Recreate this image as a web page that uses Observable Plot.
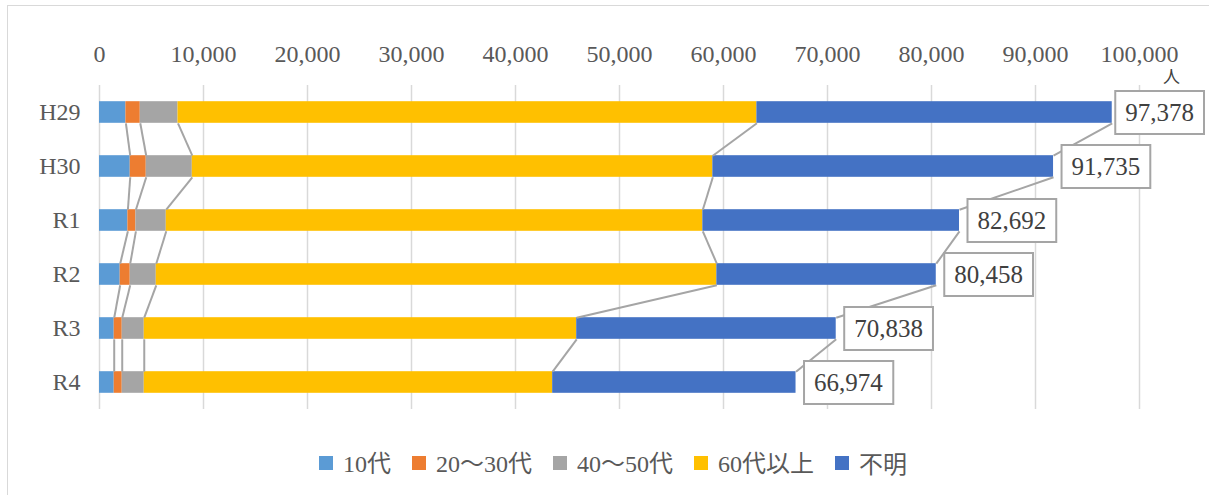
<!DOCTYPE html>
<html><head><meta charset="utf-8">
<script src="https://cdn.jsdelivr.net/npm/d3@7"></script>
<script src="https://cdn.jsdelivr.net/npm/@observablehq/plot@0.6"></script>
<style>
body{margin:0;background:#fff;font-family:"Liberation Serif","Noto Sans CJK JP",serif;}
#wrap{position:relative;width:1209px;height:495px;overflow:hidden;background:#fff;}
#frame{position:absolute;left:7px;top:5px;width:1400px;height:1000px;border:1.5px solid #D9D9D9;box-sizing:border-box;pointer-events:none;}
#chart{position:absolute;left:0;top:0;}
#legend{position:absolute;top:448px;left:17px;width:1192px;display:flex;justify-content:center;align-items:center;gap:21px;font-size:24px;line-height:28px;color:#595959;font-family:"Noto Sans CJK JP",sans-serif;}
.item{display:flex;align-items:center;gap:10px;}
.sw{width:14px;height:14px;display:inline-block;}
.num{font-family:"Liberation Serif",serif;}
</style>
</head><body>
<div id="wrap"><div id="frame"></div><div id="chart"></div><div id="legend"></div></div>
<script>
const categories = ["H29","H30","R1","R2","R3","R4"];
const ageGroups = ["10代","20～30代","40～50代","60代以上","不明"];
const teens     = [2540, 2955, 2730, 1990, 1415, 1415];
const age20s30s = [1380, 1540, 770, 965, 770, 770];
const age40s50s = [3630, 4428, 2920, 2503, 2118, 2118];
const age60plus = [55660, 50053, 51593, 53902, 41582, 39272];
const unknown   = [34168, 32759, 24679, 21098, 24953, 23399];
const totals    = [97378, 91735, 82692, 80458, 70838, 66974];
const xTicks = [0,10000,20000,30000,40000,50000,60000,70000,80000,90000,100000];
const unitLabel = "人";
const colors = ["#5B9BD5","#ED7D31","#A5A5A5","#FFC000","#4472C4"];

const series = [teens, age20s30s, age40s50s, age60plus, unknown];
const segs = [];
const ends = categories.map(() => []);
categories.forEach((c, i) => {
  let acc = 0;
  series.forEach((s, k) => {
    segs.push({cat: i, group: ageGroups[k], x1: acc, x2: acc + s[i]});
    acc += s[i];
    ends[i][k] = acc;
  });
});
const half = 0.2;
const links = [];
for (let k = 0; k < series.length; k++) {
  for (let i = 0; i < categories.length - 1; i++) {
    links.push({x1: ends[i][k], y1: i + half, x2: ends[i+1][k], y2: i + 1 - half});
  }
}
const fmt = d3.format(",");

const plot = Plot.plot({
  width: 1209, height: 430,
  marginTop: 85, marginBottom: 21, marginLeft: 99, marginRight: 70,
  style: {fontFamily: '"Liberation Serif","Noto Sans CJK JP",serif', color: "#595959", background: "transparent"},
  x: {domain: [0, 100000]},
  y: {domain: [-0.5, categories.length - 0.5], reverse: true},
  color: {domain: ageGroups, range: colors},
  marks: [
    Plot.gridX(xTicks, {stroke: "#D9D9D9", strokeWidth: 1.5, strokeOpacity: 1}),
    Plot.axisX(xTicks, {anchor: "top", tickSize: 0, tickPadding: 24, tickFormat: fmt, fontSize: 24, label: null}),
    Plot.axisY(d3.range(categories.length), {anchor: "left", tickSize: 0, tickPadding: 19, tickFormat: i => categories[i], fontSize: 24, label: null}),
    Plot.rect(segs, {x1: "x1", x2: "x2", y1: d => d.cat - half, y2: d => d.cat + half, fill: "group"}),
    Plot.link(links, {x1: "x1", y1: "y1", x2: "x2", y2: "y2", stroke: "#A5A5A5", strokeWidth: 2}),
    Plot.text([unitLabel], {x: () => 100000, y: () => -0.5, text: d => d, dx: 32, dy: -8, fontSize: 17, fill: "#404040"}),
    Plot.text(totals, {x: d => d, y: (d, i) => i, text: d => fmt(d), textAnchor: "start", dx: 18, fontSize: 25, fill: "#404040", ariaDescription: "totals"})
  ]
});
document.getElementById("chart").appendChild(plot);

// boxes around total labels
const svgRect = plot.getBoundingClientRect();
plot.querySelectorAll('g[aria-description="totals"] text').forEach(t => {
  const bb = t.getBBox();
  const r = document.createElementNS("http://www.w3.org/2000/svg", "rect");
  const cy = bb.y + bb.height / 2;
  r.setAttribute("x", bb.x - 10);
  r.setAttribute("y", cy - 21);
  r.setAttribute("width", bb.width + 20);
  r.setAttribute("height", 43);
  r.setAttribute("fill", "#fff");
  r.setAttribute("stroke", "#A5A5A5");
  r.setAttribute("stroke-width", 2);
  const tr = t.getAttribute("transform");
  if (tr) r.setAttribute("transform", tr);
  t.parentNode.insertBefore(r, t);
  const right = r.getBoundingClientRect().right - svgRect.left;
  if (right > 1204) {
    const shift = right - 1204;
    const nt = (tr ? tr + " " : "") + `translate(${-shift},0)`;
    r.setAttribute("transform", nt);
    t.setAttribute("transform", nt);
  }
});

const legend = document.getElementById("legend");
ageGroups.forEach((g, k) => {
  const it = document.createElement("div");
  it.className = "item";
  const label = g.replace(/([0-9]+)/g, '<span class="num">$1</span>');
  it.innerHTML = `<span class="sw" style="background:${colors[k]}"></span><span>${label}</span>`;
  legend.appendChild(it);
});
</script>
</body></html>
